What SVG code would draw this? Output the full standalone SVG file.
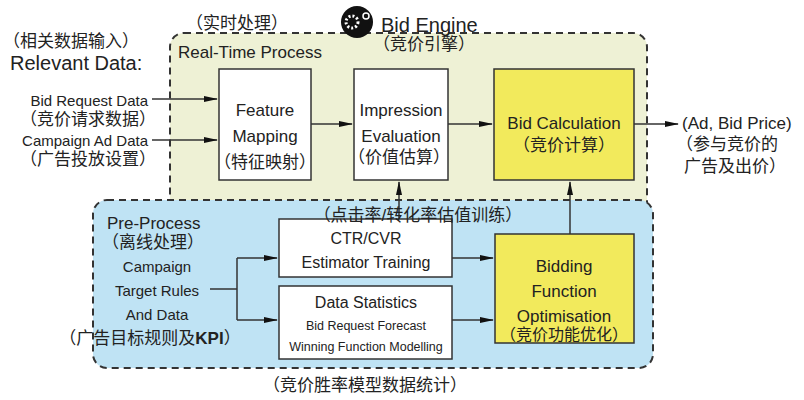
<svg xmlns="http://www.w3.org/2000/svg" width="804" height="400" viewBox="0 0 804 400">
<style>
text{font-family:"Liberation Sans","Noto Sans CJK SC",sans-serif;fill:#222}
.c{text-anchor:middle}
.r{text-anchor:end}
.box{fill:#fff;stroke:#333;stroke-width:1.5}
.yel{fill:#f2ea5c;stroke:#333;stroke-width:1.5}
.dash{stroke:#333;stroke-width:2;stroke-dasharray:7,5}
.ln{stroke:#333;stroke-width:1.5;fill:none;marker-end:url(#a)}
.pl{stroke:#333;stroke-width:1.5;fill:none}
</style>
<defs><marker id="a" markerWidth="14" markerHeight="8" refX="13" refY="4" orient="auto" markerUnits="userSpaceOnUse"><path d="M0,1 L14,4 L0,7 Z" fill="#111"/></marker></defs>
<rect width="804" height="400" fill="#fff"/>
<g id="realtime"><rect x="170" y="33" width="477" height="190" rx="14" fill="#eef1d5" class="dash"/>
<text x="178" y="58" font-size="17">Real-Time Process</text>
<text x="186" y="29" font-size="17">（实时处理）</text></g>
<g id="preprocess"><rect x="93" y="200" width="560" height="168" rx="14" fill="#bfe3f4" class="dash"/>
<text x="107" y="229" font-size="17">Pre-Process</text>
<text x="102" y="248" font-size="17">（离线处理）</text>
<text x="157" y="272" class="c" font-size="15">Campaign</text>
<text x="157" y="296" class="c" font-size="15">Target Rules</text>
<text x="157" y="320" class="c" font-size="15">And Data</text>
<text x="150" y="344" class="c" font-size="17">（广告目标规则及<tspan font-weight="bold">KPI</tspan>）</text></g>
<g id="engine"><circle cx="357" cy="22" r="16" fill="#111"/><circle cx="352" cy="22" r="6" fill="none" stroke="#fff" stroke-width="3" stroke-dasharray="2,2"/><circle cx="366" cy="16" r="3" fill="none" stroke="#fff" stroke-width="1.5"/>
<text x="381" y="32" font-size="20">Bid Engine</text>
<text x="373" y="50" font-size="17">（竞价引擎）</text></g>
<g id="inputs"><text x="3" y="47" font-size="17">（相关数据输入）</text>
<text x="10" y="70" font-size="20">Relevant Data:</text>
<text x="148" y="106" class="r" font-size="15">Bid Request Data</text>
<text x="156" y="125" class="r" font-size="17">（竞价请求数据）</text>
<text x="148" y="146" class="r" font-size="15">Campaign Ad Data</text>
<text x="156" y="165" class="r" font-size="17">（广告投放设置）</text></g>
<g id="fm"><rect x="219" y="69" width="92" height="111" class="box"/>
<text x="265" y="116" class="c" font-size="17">Feature</text><text x="265" y="142" class="c" font-size="17">Mapping</text><text x="265" y="168" class="c" font-size="17">（特征映射）</text></g>
<g id="ie"><rect x="354" y="69" width="94" height="111" class="box"/>
<text x="401" y="116" class="c" font-size="17">Impression</text><text x="401" y="142" class="c" font-size="17">Evaluation</text><text x="399" y="163" class="c" font-size="17">（价值估算）</text></g>
<g id="bc"><rect x="494" y="69" width="140" height="111" class="yel"/>
<text x="564" y="129" class="c" font-size="17">Bid Calculation</text><text x="564" y="151" class="c" font-size="17">（竞价计算）</text></g>
<g id="out"><text x="682" y="129" font-size="17">(Ad, Bid Price)</text><text x="676" y="150" font-size="17">（参与竞价的</text><text x="684" y="172" font-size="17">广告及出价）</text></g>
<g id="ctr"><rect x="279" y="219" width="173" height="58" class="box"/>
<text x="366" y="244" class="c" font-size="16">CTR/CVR</text><text x="366" y="268" class="c" font-size="16">Estimator Training</text></g>
<g id="ds"><rect x="279" y="286" width="173" height="73" class="box"/>
<text x="366" y="308" class="c" font-size="16">Data Statistics</text><text x="366" y="330" class="c" font-size="12.5">Bid Request Forecast</text><text x="366" y="351" class="c" font-size="12.5">Winning Function Modelling</text></g>
<g id="bfo"><rect x="495" y="234" width="139" height="109" class="yel"/>
<text x="564" y="272" class="c" font-size="17">Bidding</text><text x="564" y="297" class="c" font-size="17">Function</text><text x="564" y="322" class="c" font-size="17">Optimisation</text><text x="564" y="340" class="c" font-size="16">（竞价功能优化）</text></g>
<g id="connectors">
<path d="M152,99 H217" class="ln"/><path d="M152,140 H217" class="ln"/>
<path d="M311,124 H352" class="ln"/><path d="M448,124 H492" class="ln"/><path d="M634,124 H678" class="ln"/>
<path d="M399,219 V182" class="ln"/><path d="M570,234 V182" class="ln"/>
<path d="M210,289 H237" class="pl"/><path d="M237,258 V320" class="pl"/>
<path d="M237,258 H277" class="ln"/><path d="M237,320 H277" class="ln"/>
<path d="M452,258 H493" class="ln"/><path d="M452,320 H493" class="ln"/>
</g>
<g id="labels"><text x="418" y="221" class="c" font-size="17">（点击率/转化率估值训练）</text>
<text x="365" y="391" class="c" font-size="17">（竞价胜率模型数据统计）</text></g>
</svg>
